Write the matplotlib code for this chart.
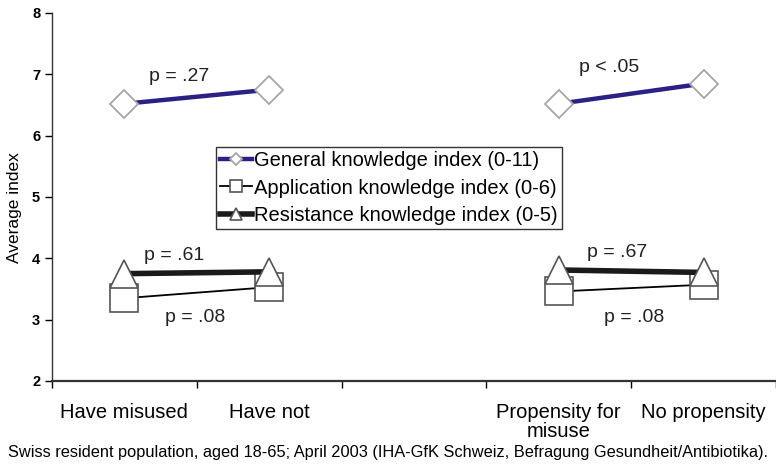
import matplotlib.pyplot as plt
import numpy as np

plt.rcParams['font.family'] = ['Liberation Sans', 'DejaVu Sans']

# categories (position 3 is the empty gap between the two comparisons)
categories = ["Have misused", "Have not", "", "Propensity for\nmisuse", "No propensity"]
group_a = [1, 2]
group_b = [4, 5]

# average index values
general_a = [6.52, 6.75]
general_b = [6.52, 6.85]
application_a = [3.35, 3.53]
application_b = [3.46, 3.57]
resistance_a = [3.75, 3.78]
resistance_b = [3.81, 3.77]

p_labels = ["p = .27", "p < .05", "p = .61", "p = .08", "p = .67", "p = .08"]
footer = "Swiss resident population, aged 18-65; April 2003 (IHA-GfK Schweiz, Befragung Gesundheit/Antibiotika)."

fig = plt.figure(figsize=(7.76, 4.68), dpi=100)
ax = fig.add_axes([52 / 776, 1 - 381 / 468, (776 - 52) / 776, (381 - 13) / 468])

blue = '#2b2185'

for xs, ys, lab in [(group_a, general_a, 'General knowledge index (0-11)'), (group_b, general_b, None)]:
    ax.plot(xs, ys, color=blue, lw=3.2, marker='D', ms=14, mfc='white', mec='#a6a6a6',
            mew=1.3, label=lab, zorder=3)
for xs, ys, lab in [(group_a, application_a, 'Application knowledge index (0-6)'), (group_b, application_b, None)]:
    ax.plot(xs, ys, color='black', lw=1.3, marker='s', ms=20, mfc='white', mec='#555555',
            mew=1.2, label=lab, zorder=3)
for xs, ys, lab in [(group_a, resistance_a, 'Resistance knowledge index (0-5)'), (group_b, resistance_b, None)]:
    ax.plot(xs, ys, color='#1a1a1a', lw=4, marker='^', ms=20, mfc='white', mec='#555555',
            mew=1.2, label=lab, zorder=4)

# p-value annotations
p_pos = [(1.38, 6.96), (4.35, 7.11), (1.34, 4.04), (1.49, 3.03), (4.40, 4.09), (4.52, 3.03)]
for (px, py), txt in zip(p_pos, p_labels):
    ax.text(px, py, txt, ha='center', va='center', fontsize=14, color='#222222')

ax.set_xlim(0.5, 0.5 + (776 - 52) / 146)
ax.set_ylim(2, 8)
ax.set_yticks(np.arange(2, 9, 1))
ax.set_yticklabels([str(v) for v in range(2, 9)], fontsize=10.5, fontweight='bold')
ax.set_ylabel('Average index', fontsize=12.5)
ax.yaxis.set_label_coords(-0.041, 0.47)

ax.set_xticks(range(1, 6))
ax.set_xticklabels(categories, fontsize=14.5)
ax.tick_params(axis='x', which='major', length=0, pad=16)
ax.set_xticks(np.arange(0.5, 6, 1), minor=True)
ax.tick_params(axis='x', which='minor', length=5, width=1, direction='out')
ax.tick_params(axis='y', length=5, width=1, direction='out')
for lbl in ax.get_xticklabels():
    lbl.set_linespacing(1.0)

for s in ['top', 'right']:
    ax.spines[s].set_visible(False)
ax.spines['left'].set_linewidth(1.0)
ax.spines['bottom'].set_linewidth(1.6)
ax.spines['left'].set_color('#333333')
ax.spines['bottom'].set_color('#333333')

leg = ax.legend(loc='center', bbox_to_anchor=(389 / 776, 1 - 188 / 468),
                bbox_transform=fig.transFigure, fontsize=14.5, markerscale=0.45,
                handlelength=1.6, handletextpad=0.1, borderpad=0.2, labelspacing=0.42,
                frameon=True, fancybox=False, edgecolor='black')
leg.get_frame().set_linewidth(1.0)

fig.text(0.5, 1 - 452 / 468, footer, ha='center', va='center', fontsize=11.8)

fig.savefig('out.png', dpi=100)
